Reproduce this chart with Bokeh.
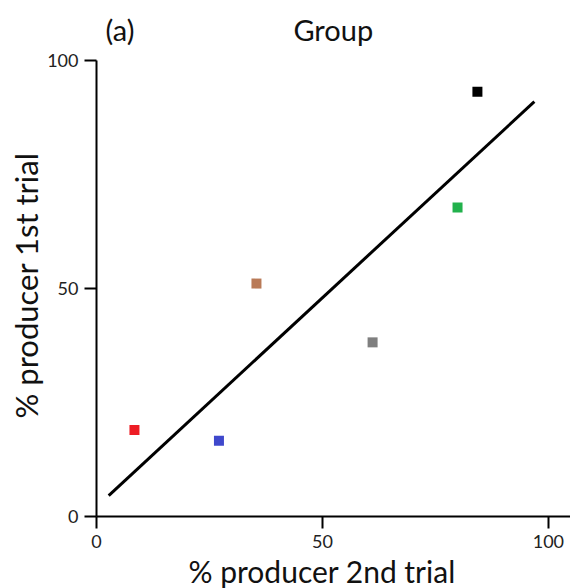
from bokeh.plotting import figure
from bokeh.models import Range1d, Label, FixedTicker, Title
from bokeh.embed import file_html
from bokeh.resources import INLINE

# data
x_second = [8.4, 27.1, 35.4, 61.1, 79.9, 84.3]
y_first = [19.0, 16.6, 51.1, 38.2, 67.8, 93.2]
colors = ["#ed1c24", "#3f48cc", "#b97a57", "#7f7f7f", "#22b14c", "#000000"]
fit_x = [2.7, 96.9]
fit_y = [4.6, 91.0]
ticks = [0, 50, 100]

FONT = "Lato"
TXT = "#111111"

p = figure(width=570, height=588, output_backend="svg", toolbar_location=None,
           x_range=Range1d(0, 104.9), y_range=Range1d(0, 111),
           min_border_left=96, min_border_right=0, min_border_top=10, min_border_bottom=72)

p.outline_line_color = None
p.grid.visible = False
p.background_fill_color = "white"
p.border_fill_color = "white"

for ax in (p.xaxis[0], p.yaxis[0]):
    ax.ticker = FixedTicker(ticks=ticks)
    ax.minor_tick_line_color = None
    ax.major_tick_in = 0
    ax.major_tick_out = 12
    ax.major_tick_line_width = 2
    ax.axis_line_width = 2
    ax.axis_line_color = "black"
    ax.major_tick_line_color = "black"
    ax.major_label_text_font = FONT
    ax.major_label_text_font_size = "18px"
    ax.major_label_text_color = "#222222"
    ax.major_label_standoff = 6
p.yaxis.bounds = (0, 100)

p.add_layout(Title(text="% producer 1st trial", align="left", offset=98,
                   text_font=FONT, text_font_size="31px", text_font_style="normal",
                   text_color=TXT, standoff=0), "left")
p.add_layout(Title(text="% producer 2nd trial", align="left", offset=92,
                   text_font=FONT, text_font_size="30px", text_font_style="normal",
                   text_color=TXT, standoff=0), "below")

p.line(fit_x, fit_y, line_color="black", line_width=3)
p.scatter(x_second, y_first, marker="square", size=10, fill_color=colors, line_color=None)

p.add_layout(Label(x=52.4, y=106.8, text="Group", text_align="center",
                   text_baseline="alphabetic", text_font=FONT, text_font_size="29px",
                   text_color=TXT))
p.add_layout(Label(x=2.0, y=106.8, text="(a)", text_align="left",
                   text_baseline="alphabetic", text_font=FONT, text_font_size="29px",
                   text_color=TXT))

open("out.html", "w").write(file_html(p, INLINE))
